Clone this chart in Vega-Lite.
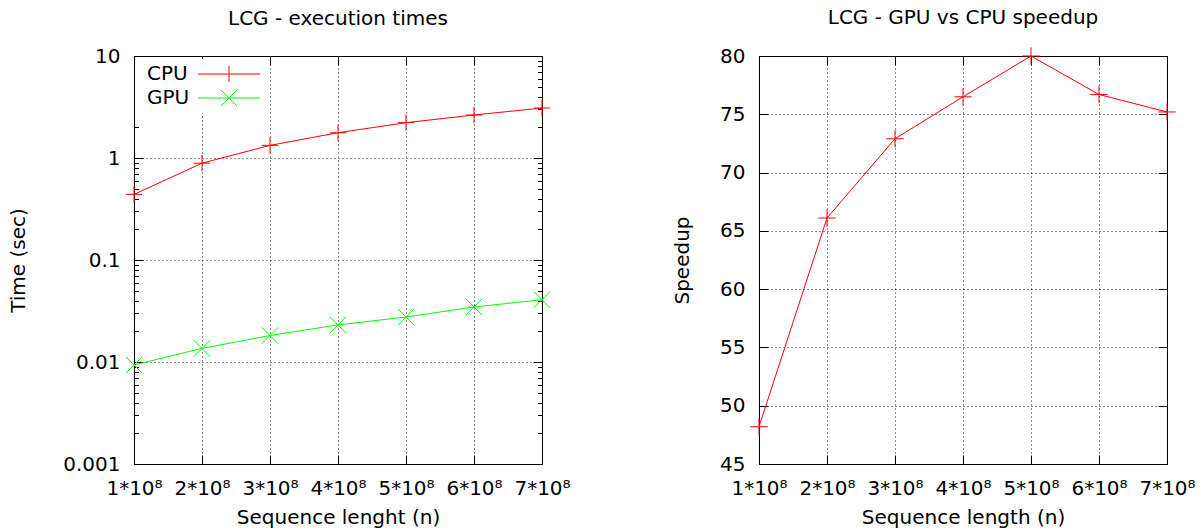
{
  "$schema": "https://vega.github.io/schema/vega-lite/v6.json",
  "autosize": {"type": "pad"},
  "padding": {"left": 8, "top": 7, "right": 0, "bottom": 0},
  "background": "white",
  "datasets": {
    "times": [
      {"n": 1, "series": "CPU", "time": 0.44},
      {"n": 2, "series": "CPU", "time": 0.89},
      {"n": 3, "series": "CPU", "time": 1.33},
      {"n": 4, "series": "CPU", "time": 1.77},
      {"n": 5, "series": "CPU", "time": 2.22},
      {"n": 6, "series": "CPU", "time": 2.64},
      {"n": 7, "series": "CPU", "time": 3.09},
      {"n": 1, "series": "GPU", "time": 0.00935},
      {"n": 2, "series": "GPU", "time": 0.0136},
      {"n": 3, "series": "GPU", "time": 0.0182},
      {"n": 4, "series": "GPU", "time": 0.0231},
      {"n": 5, "series": "GPU", "time": 0.0276},
      {"n": 6, "series": "GPU", "time": 0.0346},
      {"n": 7, "series": "GPU", "time": 0.0408}
    ],
    "speedup": [
      {"n": 1, "speedup": 48.2},
      {"n": 2, "speedup": 66.1},
      {"n": 3, "speedup": 72.9},
      {"n": 4, "speedup": 76.5},
      {"n": 5, "speedup": 80.0},
      {"n": 6, "speedup": 76.7},
      {"n": 7, "speedup": 75.2}
    ]
  },
  "spacing": 217,
  "bounds": "flush",
  "hconcat": [
    {
      "width": 408,
      "height": 408,
      "title": {"text": "LCG - execution times", "offset": 17},
      "data": {"name": "times"},
      "resolve": {"axis": {"x": "independent", "y": "independent"}},
      "layer": [
        {
          "mark": {"type": "line", "strokeWidth": 1, "clip": true},
          "encoding": {
            "x": {
              "field": "n", "type": "quantitative",
              "scale": {"domain": [1, 7], "nice": false, "zero": false},
              "axis": {
                "title": "Sequence lenght (n)",
                "values": [1, 2, 3, 4, 5, 6, 7],
                "labelExpr": "datum.value + '*10⁸'",
                "grid": true,
                "tickSize": -9,
                "labelPadding": 23,
                "titlePadding": 9
              }
            },
            "y": {
              "field": "time", "type": "quantitative",
              "scale": {"type": "log", "domain": [0.001, 10], "nice": false},
              "axis": {
                "title": "Time (sec)",
                "values": [0.001, 0.002, 0.003, 0.004, 0.005, 0.006, 0.007, 0.008, 0.009, 0.01, 0.02, 0.03, 0.04, 0.05, 0.06, 0.07, 0.08, 0.09, 0.1, 0.2, 0.3, 0.4, 0.5, 0.6, 0.7, 0.8, 0.9, 1, 2, 3, 4, 5, 6, 7, 8, 9, 10],
                "labelExpr": "datum.value == 0.001 ? '0.001' : datum.value == 0.01 ? '0.01' : datum.value == 0.1 ? '0.1' : datum.value == 1 ? '1' : datum.value == 10 ? '10' : ''",
                "grid": true,
                "gridOpacity": {"condition": {"test": "datum.value == 0.001 || datum.value == 0.01 || datum.value == 0.1 || datum.value == 1 || datum.value == 10", "value": 0.9}, "value": 0},
                "tickSize": {"condition": {"test": "datum.value == 0.001 || datum.value == 0.01 || datum.value == 0.1 || datum.value == 1 || datum.value == 10", "value": -9}, "value": -4.5},
                "labelPadding": 23,
                "titlePadding": 34
              }
            },
            "color": {
              "field": "series", "type": "nominal",
              "scale": {"domain": ["CPU", "GPU"], "range": ["#ff0000", "#00ff00"]},
              "legend": {
                "title": null,
                "orient": "none",
                "legendX": 1,
                "legendY": 3,
                "padding": 5,
                "fillColor": "white",
                "labelFontSize": 20,
                "labelFont": "DejaVu Sans",
                "labelColor": "black",
                "rowPadding": 4,
                "symbolSize": 256,
                "symbolStrokeWidth": 1,
                "symbolType": "M-3.9,0L3.9,0M0,-1L0,1",
                "encode": {
                  "labels": {"update": {"x": {"value": 7}, "align": {"value": "left"}}},
                  "symbols": {"update": {
                    "x": {"value": 89},
                    "shape": {"signal": "datum.value === 'CPU' ? 'M-3.9,0L3.9,0M0,-1L0,1' : 'M-3.9,0L3.9,0M-1,-1L1,1M-1,1L1,-1'"},
                    "size": {"value": 256},
                    "strokeWidth": {"value": 1},
                    "fill": {"value": "transparent"}
                  }}
                }
              }
            }
          }
        },
        {
          "transform": [{"filter": "datum.series === 'CPU'"}],
          "mark": {"type": "point", "filled": false, "strokeWidth": 1, "size": 272, "opacity": 1, "color": "#ff0000", "shape": "M-1,0L1,0M0,-1L0,1"},
          "encoding": {
            "x": {
              "field": "n", "type": "quantitative",
              "axis": {"orient": "top", "values": [1, 2, 3, 4, 5, 6, 7], "labels": false, "title": null, "grid": false, "tickSize": -9}
            },
            "y": {
              "field": "time", "type": "quantitative",
              "axis": {
                "orient": "right", "labels": false, "title": null, "grid": false,
                "values": [0.001, 0.002, 0.003, 0.004, 0.005, 0.006, 0.007, 0.008, 0.009, 0.01, 0.02, 0.03, 0.04, 0.05, 0.06, 0.07, 0.08, 0.09, 0.1, 0.2, 0.3, 0.4, 0.5, 0.6, 0.7, 0.8, 0.9, 1, 2, 3, 4, 5, 6, 7, 8, 9, 10],
                "tickSize": {"condition": {"test": "datum.value == 0.001 || datum.value == 0.01 || datum.value == 0.1 || datum.value == 1 || datum.value == 10", "value": -9}, "value": -4.5}
              }
            }
          }
        },
        {
          "transform": [{"filter": "datum.series === 'GPU'"}],
          "mark": {"type": "point", "filled": false, "strokeWidth": 1, "size": 272, "opacity": 1, "color": "#00ff00", "shape": "M-1,-1L1,1M-1,1L1,-1"},
          "encoding": {
            "x": {"field": "n", "type": "quantitative", "axis": null},
            "y": {"field": "time", "type": "quantitative", "axis": null}
          }
        }
      ]
    },
    {
      "width": 408,
      "height": 408,
      "title": {"text": "LCG - GPU vs CPU speedup", "offset": 17},
      "data": {"name": "speedup"},
      "resolve": {"axis": {"x": "independent", "y": "independent"}},
      "layer": [
        {
          "mark": {"type": "line", "strokeWidth": 1, "color": "#ff0000"},
          "encoding": {
            "x": {
              "field": "n", "type": "quantitative",
              "scale": {"domain": [1, 7], "nice": false, "zero": false},
              "axis": {
                "title": "Sequence length (n)",
                "values": [1, 2, 3, 4, 5, 6, 7],
                "labelExpr": "datum.value + '*10⁸'",
                "grid": true,
                "tickSize": -9,
                "labelPadding": 23,
                "titlePadding": 9
              }
            },
            "y": {
              "field": "speedup", "type": "quantitative",
              "scale": {"domain": [45, 80], "nice": false, "zero": false},
              "axis": {
                "title": "Speedup",
                "values": [45, 50, 55, 60, 65, 70, 75, 80],
                "grid": true,
                "tickSize": -9,
                "labelPadding": 23,
                "titlePadding": 27
              }
            }
          }
        },
        {
          "mark": {"type": "point", "filled": false, "strokeWidth": 1, "size": 300, "color": "#ff0000", "opacity": 1, "shape": "M-1,0L1,0M0,-1L0,1"},
          "encoding": {
            "x": {
              "field": "n", "type": "quantitative",
              "axis": {"orient": "top", "values": [1, 2, 3, 4, 5, 6, 7], "labels": false, "title": null, "grid": false, "tickSize": -9}
            },
            "y": {
              "field": "speedup", "type": "quantitative",
              "axis": {"orient": "right", "values": [45, 50, 55, 60, 65, 70, 75, 80], "labels": false, "title": null, "grid": false, "tickSize": -9}
            }
          }
        }
      ]
    }
  ],
  "config": {
    "font": "DejaVu Sans",
    "view": {"stroke": "black", "strokeWidth": 1},
    "title": {"font": "DejaVu Sans", "fontSize": 20, "fontWeight": "normal", "color": "black"},
    "axis": {
      "domain": false,
      "labelFont": "DejaVu Sans",
      "labelFontSize": 20,
      "labelColor": "black",
      "titleFont": "DejaVu Sans",
      "titleFontSize": 20,
      "titleFontWeight": "normal",
      "titleColor": "black",
      "tickColor": "black",
      "tickWidth": 1,
      "gridColor": "black",
      "gridDash": [1, 3],
      "gridOpacity": 0.9,
      "gridWidth": 1,
      "labelFlush": false,
      "labelOverlap": false,
      "labelBound": false
    }
  }
}
